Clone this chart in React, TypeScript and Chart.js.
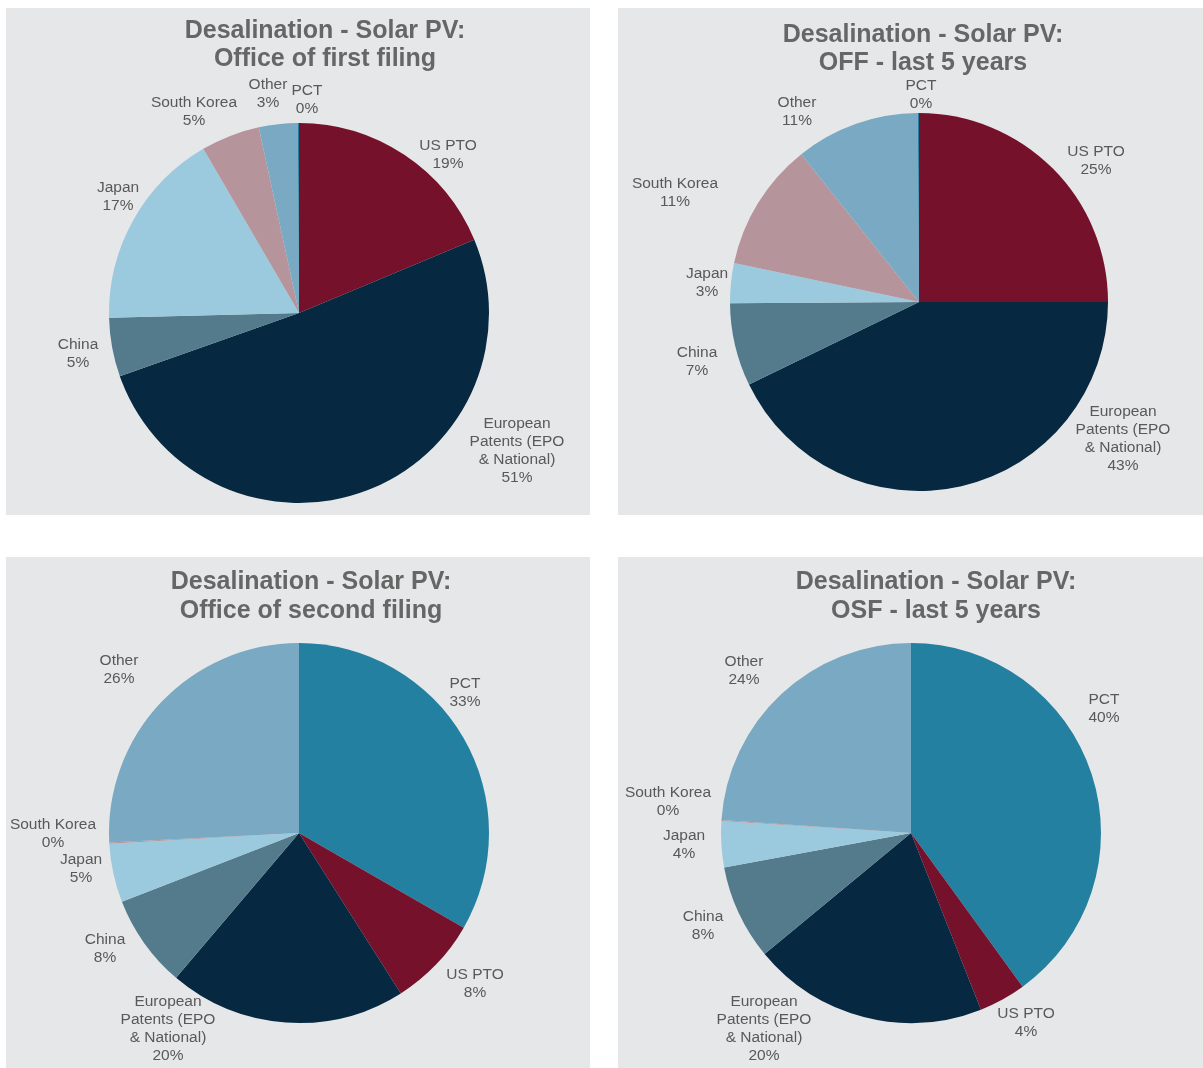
import React, { useEffect, useRef } from "react";
import { Chart, registerables } from "chart.js";

Chart.register(...registerables);

// ---- Data ----
const firstFilingCategories = [
  "US PTO",
  "European Patents (EPO & National)",
  "China",
  "Japan",
  "South Korea",
  "Other",
  "PCT",
];
const secondFilingCategories = [
  "PCT",
  "US PTO",
  "European Patents (EPO & National)",
  "China",
  "Japan",
  "South Korea",
  "Other",
];

const offAllYears = [18.7, 50.9, 5.0, 17.0, 5.0, 3.3, 0.1];
const offLast5Years = [25.0, 42.8, 7.1, 3.4, 11.0, 10.6, 0.1];
const osfAllYears = [33.3, 7.7, 20.2, 7.9, 5.0, 0.1, 25.8];
const osfLast5Years = [40.0, 4.0, 20.0, 8.1, 3.9, 0.1, 23.9];

const titles = [
  ["Desalination - Solar PV:", "Office of first filing"],
  ["Desalination - Solar PV:", "OFF - last 5 years"],
  ["Desalination - Solar PV:", "Office of second filing"],
  ["Desalination - Solar PV:", "OSF - last 5 years"],
];

// ---- Styles ----
const categoryColors: Record<string, string> = {
  "US PTO": "#76112B",
  "European Patents (EPO & National)": "#062840",
  China: "#537B8C",
  Japan: "#9BCADF",
  "South Korea": "#B5949B",
  Other: "#7AAAC3",
  PCT: "#2380A0",
};

const labelLines: Record<string, string[]> = {
  "European Patents (EPO & National)": ["European", "Patents (EPO", "& National)"],
};

const FONT = '"Liberation Sans", Arial, Helvetica, sans-serif';
const PANEL_BG = "#E6E7E8";

// label block centre offsets relative to the pie centre (layout only)
const labelOffsetsTL = [[149, -158], [218, 138], [-221, 41], [-181, -116], [-105, -201], [-31, -219], [8, -213]];
const labelOffsetsTR = [[177, -141], [204, 137], [-222, 60], [-212, -19], [-244, -109], [-122, -190], [2, -207]];
const labelOffsetsBL = [[166, -140], [176, 151], [-131, 196], [-194, 116], [-218, 36], [-246, 1], [-180, -163]];
const labelOffsetsBR = [[193, -124], [115, 190], [-147, 196], [-208, 93], [-227, 12], [-243, -31], [-167, -162]];

type Panel = {
  left: number;
  top: number;
  width: number;
  height: number;
  padding: { left: number; right: number; top: number; bottom: number };
  titleX: number;
  titleBaselines: number[];
  categories: string[];
  values: number[];
  title: string[];
  labelOffsets: number[][];
};

const panels: Panel[] = [
  {
    left: 6, top: 8, width: 584, height: 507,
    padding: { left: 103, right: 101, top: 115, bottom: 12 },
    titleX: 319, titleBaselines: [29.5, 57.5],
    categories: firstFilingCategories, values: offAllYears, title: titles[0], labelOffsets: labelOffsetsTL,
  },
  {
    left: 618, top: 8, width: 585, height: 507,
    padding: { left: 112, right: 95, top: 105, bottom: 24 },
    titleX: 305, titleBaselines: [33.5, 62],
    categories: firstFilingCategories, values: offLast5Years, title: titles[1], labelOffsets: labelOffsetsTR,
  },
  {
    left: 6, top: 557, width: 584, height: 511,
    padding: { left: 103, right: 101, top: 86, bottom: 45 },
    titleX: 305, titleBaselines: [31.5, 60.5],
    categories: secondFilingCategories, values: osfAllYears, title: titles[2], labelOffsets: labelOffsetsBL,
  },
  {
    left: 618, top: 557, width: 585, height: 511,
    padding: { left: 103, right: 102, top: 86, bottom: 45 },
    titleX: 318, titleBaselines: [31.5, 60.5],
    categories: secondFilingCategories, values: osfLast5Years, title: titles[3], labelOffsets: labelOffsetsBR,
  },
];

function PiePanel({ panel }: { panel: Panel }) {
  const ref = useRef<HTMLCanvasElement | null>(null);

  useEffect(() => {
    if (!ref.current) return;
    const total = panel.values.reduce((a, b) => a + b, 0);

    const overlayPlugin = {
      id: "overlay",
      afterDraw(chart: any) {
        const ctx = chart.ctx;
        ctx.save();
        // title
        ctx.fillStyle = "#666666";
        ctx.font = `bold 25px ${FONT}`;
        ctx.textAlign = "center";
        ctx.textBaseline = "alphabetic";
        panel.title.forEach((t, i) => ctx.fillText(t, panel.titleX, panel.titleBaselines[i]));

        // data labels
        const meta = chart.getDatasetMeta(0);
        ctx.fillStyle = "#595959";
        ctx.font = `15.5px ${FONT}`;
        ctx.textBaseline = "middle";
        const lh = 18;
        meta.data.forEach((arc: any, i: number) => {
          const cat = panel.categories[i];
          const pct = Math.round((panel.values[i] / total) * 100);
          const lines = [...(labelLines[cat] || [cat]), `${pct}%`];
          const [dx, dy] = panel.labelOffsets[i];
          const cx = arc.x + dx;
          const cy = arc.y + dy - ((lines.length - 1) * lh) / 2;
          lines.forEach((l, k) => ctx.fillText(l, cx, cy + k * lh));
        });
        ctx.restore();
      },
    };

    const chart = new Chart(ref.current, {
      type: "pie",
      data: {
        labels: panel.categories,
        datasets: [
          {
            data: panel.values,
            backgroundColor: panel.categories.map((c) => categoryColors[c]),
            borderWidth: 0,
          },
        ],
      },
      options: {
        responsive: false,
        animation: false,
        devicePixelRatio: 1,
        layout: { padding: panel.padding },
        plugins: {
          legend: { display: false },
          tooltip: { enabled: false },
          title: { display: false },
        },
      },
      plugins: [overlayPlugin],
    } as any);

    return () => chart.destroy();
  }, [panel]);

  return (
    <canvas
      ref={ref}
      width={panel.width}
      height={panel.height}
      style={{
        position: "absolute",
        left: panel.left,
        top: panel.top,
        width: panel.width,
        height: panel.height,
        background: PANEL_BG,
      }}
    />
  );
}

export default function App() {
  return (
    <div
      style={{
        position: "absolute",
        left: 0,
        top: 0,
        width: 1203,
        height: 1068,
        background: "#ffffff",
        overflow: "hidden",
      }}
    >
      {panels.map((p, i) => (
        <PiePanel key={i} panel={p} />
      ))}
    </div>
  );
}
